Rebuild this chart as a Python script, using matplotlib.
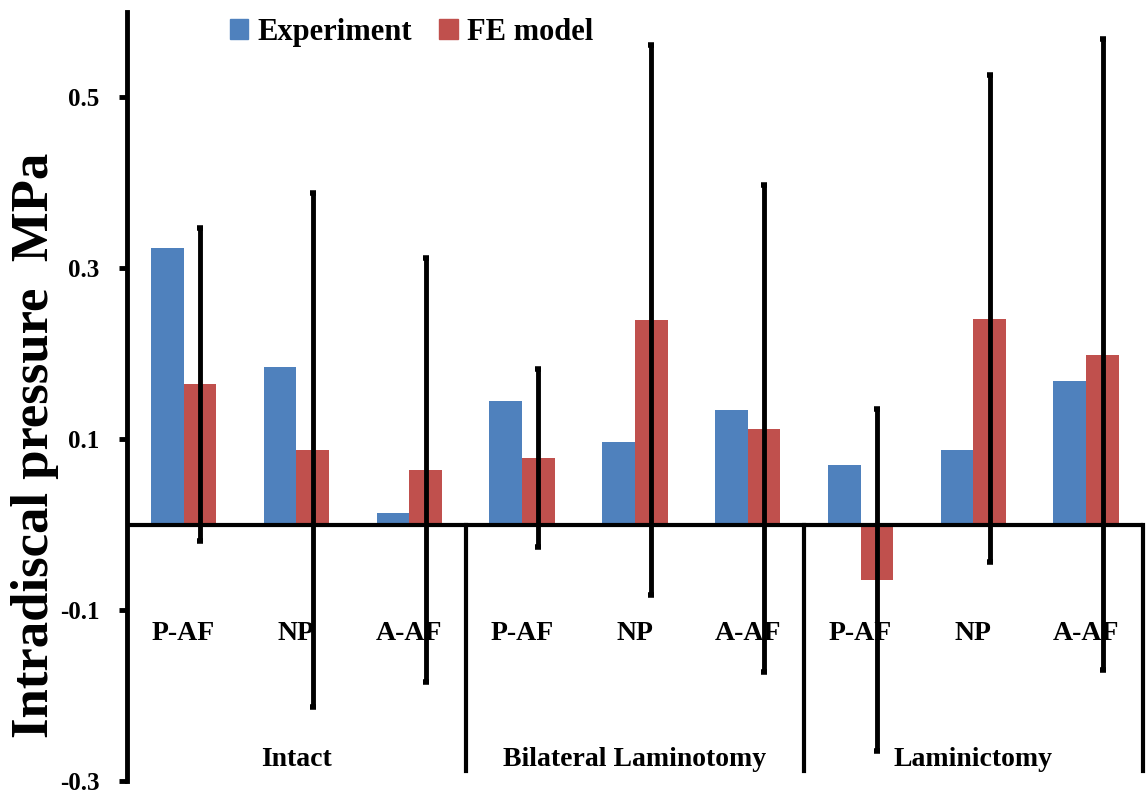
import numpy as np
import matplotlib
matplotlib.use("Agg")
import matplotlib.pyplot as plt
from matplotlib.patches import Patch

plt.rcParams['font.family'] = ['Liberation Serif', 'DejaVu Serif']
plt.rcParams['font.weight'] = 'bold'

# data
regions = ['P-AF', 'NP', 'A-AF', 'P-AF', 'NP', 'A-AF', 'P-AF', 'NP', 'A-AF']
groups = ['Intact', 'Bilateral Laminotomy', 'Laminictomy']
experiment = [0.324, 0.185, 0.014, 0.145, 0.097, 0.134, 0.070, 0.087, 0.168]
fe_model = [0.164, 0.087, 0.064, 0.078, 0.239, 0.112, -0.065, 0.241, 0.199]
fe_err = [0.183, 0.301, 0.248, 0.104, 0.322, 0.285, 0.200, 0.285, 0.369]

blue = '#4F81BD'
red = '#C0504D'

fig = plt.figure(figsize=(11.46, 7.96), dpi=100)
ax = fig.add_axes([0.111, 0.019, 0.886, 0.966])

x = np.arange(len(regions))
w = 0.29
ax.bar(x - w / 2, experiment, w, color=blue, label='Experiment', zorder=2)
ax.bar(x + w / 2, fe_model, w, color=red, label='FE model', zorder=2)
ax.errorbar(x + w / 2, fe_model, yerr=fe_err, fmt='none', ecolor='black',
            elinewidth=3.5, capsize=2.5, capthick=4, zorder=4)

ax.set_xlim(-0.5, len(regions) - 0.5)
ax.set_ylim(-0.3, 0.6)
ax.set_yticks([-0.3, -0.1, 0.1, 0.3, 0.5])
ax.set_yticklabels(['-0.3', '-0.1', '0.1', '0.3', '0.5'])
ax.tick_params(axis='y', labelsize=18, width=3.5, length=6, pad=14)
ax.set_xticks([])

for s in ['top', 'right', 'bottom']:
    ax.spines[s].set_visible(False)
ax.spines['left'].set_linewidth(3.5)

# zero line
ax.axhline(0, color='black', lw=3, zorder=3)

# separators between groups
for sep in [2.5, 5.5, 8.5]:
    ax.plot([sep, sep], [0, -0.289], color='black', lw=3, clip_on=False, zorder=3)

for xi, r in zip(x, regions):
    ax.text(xi, -0.128, r, ha='center', va='center', fontsize=20, fontweight='bold')
for i, g in enumerate(groups):
    ax.text(3 * i + 1, -0.275, g, ha='center', va='center', fontsize=20, fontweight='bold')

fig.text(35 / 1146, 1 - 445 / 796, 'Intradiscal pressure  MPa', rotation=90,
         ha='center', va='center', fontsize=38, fontweight='bold')

handles = [Patch(color=blue), Patch(color=red)]
ax.legend(handles, ['Experiment', 'FE model'], ncol=2, frameon=False,
          loc='upper left', bbox_to_anchor=(0.074, 1.028), prop={'size': 22, 'weight': 'bold'},
          handlelength=0.6, handleheight=0.6, handletextpad=0.3, columnspacing=0.9)

fig.savefig('out.png', dpi=100)
